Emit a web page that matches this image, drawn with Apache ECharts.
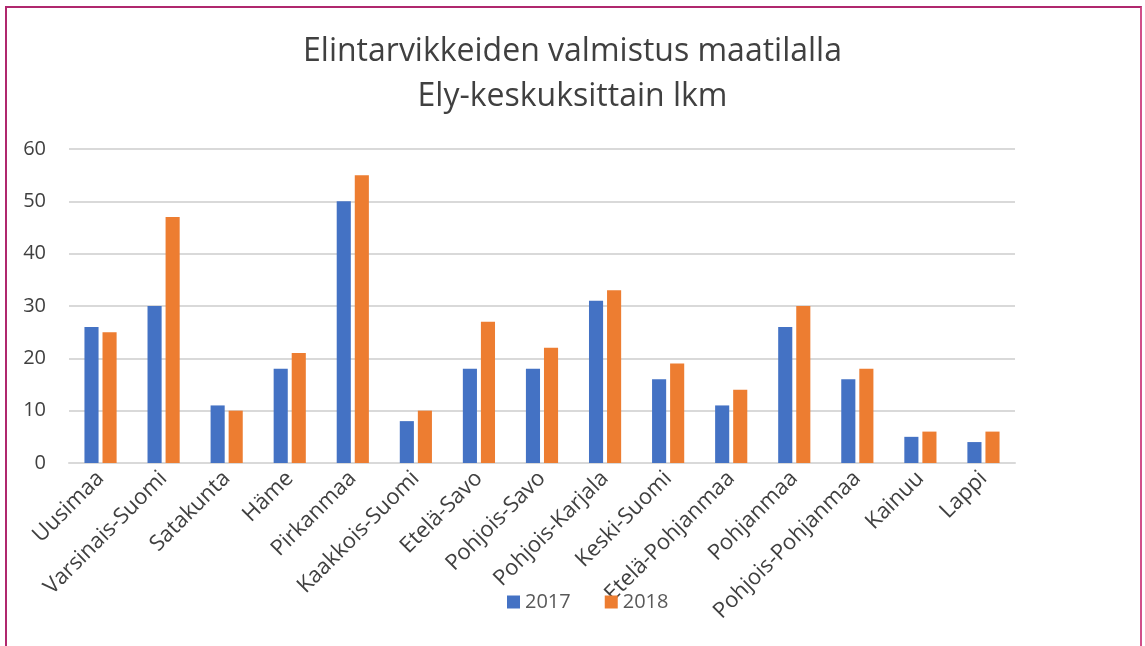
<!DOCTYPE html>
<html><head><meta charset="utf-8">
<script src="https://cdn.jsdelivr.net/npm/echarts@6/dist/echarts.min.js"></script>
<style>
html,body{margin:0;padding:0;background:#fff;}
#frame{position:absolute;left:5px;top:6px;width:1137px;height:650px;border:2px solid #b0286e;border-right-color:#d0508a;box-sizing:border-box;}
#c{position:absolute;left:0;top:0;width:1145px;height:646px;}
</style></head>
<body>
<div id="frame"></div>
<div id="c"></div>
<script>
const categories = ['Uusimaa','Varsinais-Suomi','Satakunta','Häme','Pirkanmaa','Kaakkois-Suomi','Etelä-Savo','Pohjois-Savo','Pohjois-Karjala','Keski-Suomi','Etelä-Pohjanmaa','Pohjanmaa','Pohjois-Pohjanmaa','Kainuu','Lappi'];
const values2017 = [26,30,11,18,50,8,18,18,31,16,11,26,16,5,4];
const values2018 = [25,47,10,21,55,10,27,22,33,19,14,30,18,6,6];
const chart = echarts.init(document.getElementById('c'));
const font = '"Open Sans", "Noto Sans", sans-serif';
chart.setOption({
  animation:false,
  title:{text:'Elintarvikkeiden valmistus maatilalla\nEly-keskuksittain lkm',left:'center',top:24,
    textStyle:{fontFamily:font,fontSize:32,fontWeight:'normal',color:'#404040',lineHeight:45}},
  legend:{top:587,left:502,itemWidth:13,itemHeight:13,itemGap:34,icon:'rect',
    textStyle:{fontFamily:font,fontSize:20,color:'#595959'},data:['2017','2018']},
  grid:{left:69,right:130,top:149,bottom:183,containLabel:false},
  xAxis:{type:'category',data:categories,
    axisLine:{lineStyle:{color:'#d9d9d9',width:2}},axisTick:{show:false},
    axisLabel:{rotate:45,interval:0,margin:12,fontFamily:font,fontSize:22,color:'#404040'}},
  yAxis:{type:'value',min:0,max:60,interval:10,
    axisLine:{show:false},axisTick:{show:false},
    splitLine:{lineStyle:{color:'#d9d9d9',width:2}},
    axisLabel:{margin:23,fontFamily:font,fontSize:20,color:'#404040'}},
  series:[
    {name:'2017',type:'bar',data:values2017,itemStyle:{color:'#4472C4'},barGap:'28%',barCategoryGap:'49%'},
    {name:'2018',type:'bar',data:values2018,itemStyle:{color:'#ED7D31'}}
  ]
});
</script>
</body></html>
